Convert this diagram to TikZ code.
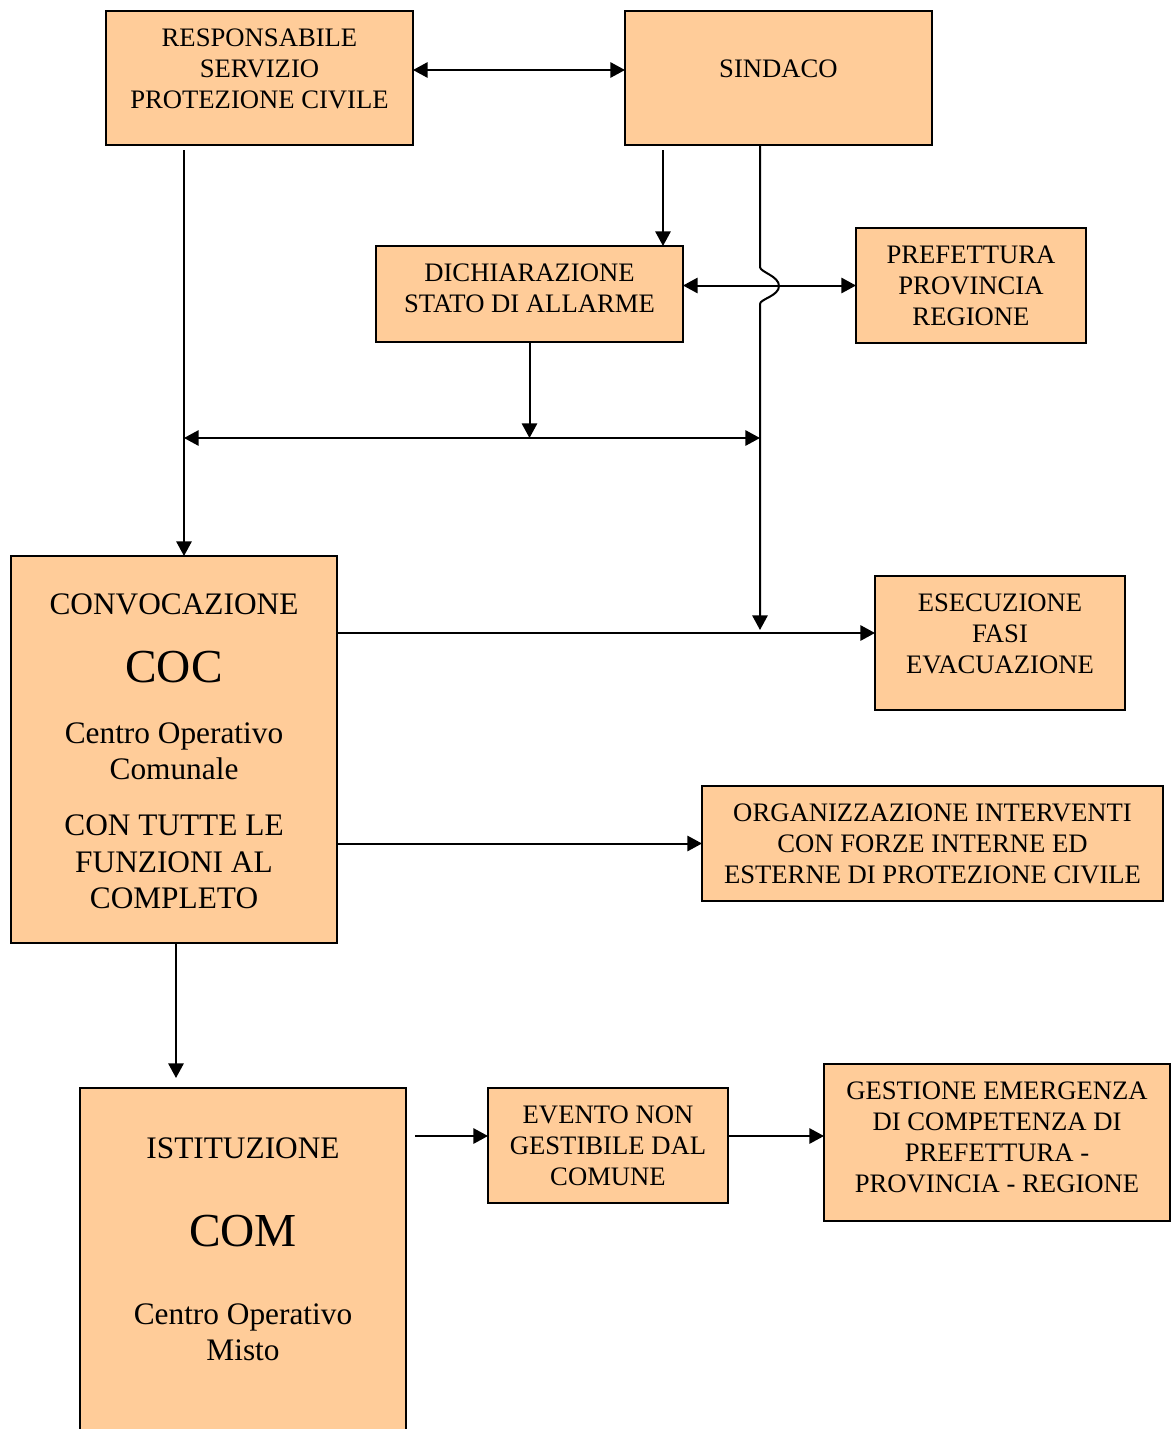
\documentclass[tikz,border=0pt]{standalone}
\usepackage{fontspec}
\setmainfont{Liberation Serif}
\usetikzlibrary{arrows.meta,calc}
\definecolor{boxfill}{HTML}{FFCC99}
\tikzset{
  box/.style={draw=black, fill=boxfill, line width=1.5pt, inner sep=0pt, outer sep=0pt},
  txt/.style={align=center, inner sep=0pt, font=\fontsize{20}{23.25}\selectfont},
  bigtxt/.style={align=center, inner sep=0pt, font=\fontsize{23.5}{27.3}\selectfont},
  huge/.style={inner sep=0pt, font=\fontsize{35.5}{40}\selectfont},
  conn/.style={line width=1.5pt, -{Triangle[length=11pt,width=11.5pt]}},
  dconn/.style={line width=1.5pt, {Triangle[length=11pt,width=11.5pt]}-{Triangle[length=11pt,width=11.5pt]}}
}
\begin{document}
\begin{tikzpicture}[x=0.75pt, y=-0.75pt]
\useasboundingbox (0,0) rectangle (1175,1429);

% boxes
\node[box, minimum width={307*0.75pt}, minimum height={134*0.75pt}] (resp) at (259.5,78) {};
\node[box, minimum width={307*0.75pt}, minimum height={134*0.75pt}] (sind) at (778.5,78) {};
\node[box, minimum width={307*0.75pt}, minimum height={96*0.75pt}] (dich) at (529.5,294) {};
\node[box, minimum width={230*0.75pt}, minimum height={115*0.75pt}] (pref) at (971,285.5) {};
\node[box, minimum width={326*0.75pt}, minimum height={387*0.75pt}] (coc) at (174,749.5) {};
\node[box, minimum width={250*0.75pt}, minimum height={134*0.75pt}] (ese) at (1000,643) {};
\node[box, minimum width={461*0.75pt}, minimum height={115*0.75pt}] (org) at (932.5,843.5) {};
\node[box, minimum width={326*0.75pt}, minimum height={360*0.75pt}] (com) at (243,1268) {};
\node[box, minimum width={240*0.75pt}, minimum height={115*0.75pt}] (evt) at (608,1145.5) {};
\node[box, minimum width={346*0.75pt}, minimum height={157*0.75pt}] (gest) at (997,1142.5) {};

% box texts
\node[txt] (resp-t) at (259.5,69) {RESPONSABILE\\SERVIZIO\\PROTEZIONE CIVILE};
\node[txt] (sind-t) at (778.5,69) {SINDACO};
\node[txt] (dich-t) at (529.5,288.5) {DICHIARAZIONE\\STATO DI ALLARME};
\node[txt] (pref-t) at (971,286) {PREFETTURA\\PROVINCIA\\REGIONE};
\node[txt] (ese-t) at (1000,633.5) {ESECUZIONE\\FASI\\EVACUAZIONE};
\node[txt] (org-t) at (932.5,844) {ORGANIZZAZIONE INTERVENTI\\CON FORZE INTERNE ED\\ESTERNE DI PROTEZIONE CIVILE};
\node[txt] (evt-t) at (608,1146) {EVENTO NON\\GESTIBILE DAL\\COMUNE};
\node[txt] (gest-t) at (997,1137) {GESTIONE EMERGENZA\\DI COMPETENZA DI\\PREFETTURA -\\PROVINCIA - REGIONE};

\node[bigtxt] (coc-t1) at (174,604) {CONVOCAZIONE};
\node[huge] (coc-t2) at (174,667) {COC};
\node[bigtxt] (coc-t3) at (174,751) {Centro Operativo\\Comunale};
\node[bigtxt] (coc-t4) at (174,862) {CON TUTTE LE\\FUNZIONI AL\\COMPLETO};

\node[bigtxt] (com-t1) at (243,1148) {ISTITUZIONE};
\node[huge] (com-t2) at (243,1231) {COM};
\node[bigtxt] (com-t3) at (243,1332) {Centro Operativo\\Misto};

% connectors
\draw[dconn] ($(resp.east)+(0,-8)$) -- ($(sind.west)+(0,-8)$);
\draw[conn] ($(sind.south west)+(38,5)$) -- ($(dich.north)+(133.5,0)$);
\draw[dconn] (dich.east |- pref.west) -- (pref.west);

\coordinate (busl) at ($(resp.south west)+(78,293)$);
\coordinate (busr) at ($(sind.south west)+(135,293)$);
\coordinate (sindend) at ($(sind.south west)+(135,485)$);

% line from SINDACO hopping over the DICHIARAZIONE - PREFETTURA link
\draw[conn] ($(sind.south west)+(135,0)$) -- ($(sind.south west)+(135,122)$)
  .. controls ($(sind.south west)+(135,127)$) and ($(sind.south west)+(154,131)$) .. ($(sind.south west)+(154,141)$)
  .. controls ($(sind.south west)+(154,151)$) and ($(sind.south west)+(135,154)$) .. ($(sind.south west)+(135,159)$)
  -- (sindend);

\draw[conn] ($(resp.south west)+(78,5)$) -- ($(coc.north west)+(173,0)$);
\draw[conn] (dich.south) -- (dich.south |- busl);
\draw[dconn] (busl) -- (busr);

\draw[conn] ($(coc.north east)+(0,77)$) -- ($(ese.north west)+(0,57)$);
\draw[conn] (coc.east |- org.west) -- (org.west);
\draw[conn] ($(coc.south)+(2,0)$) -- ($(com.north west)+(96,-10)$);
\draw[conn] ($(com.north east)+(9,48)$) -- ($(evt.north west)+(0,48)$);
\draw[conn] ($(evt.north east)+(0,48)$) -- ($(gest.west)+(0,-6.5)$);
\end{tikzpicture}
\end{document}
